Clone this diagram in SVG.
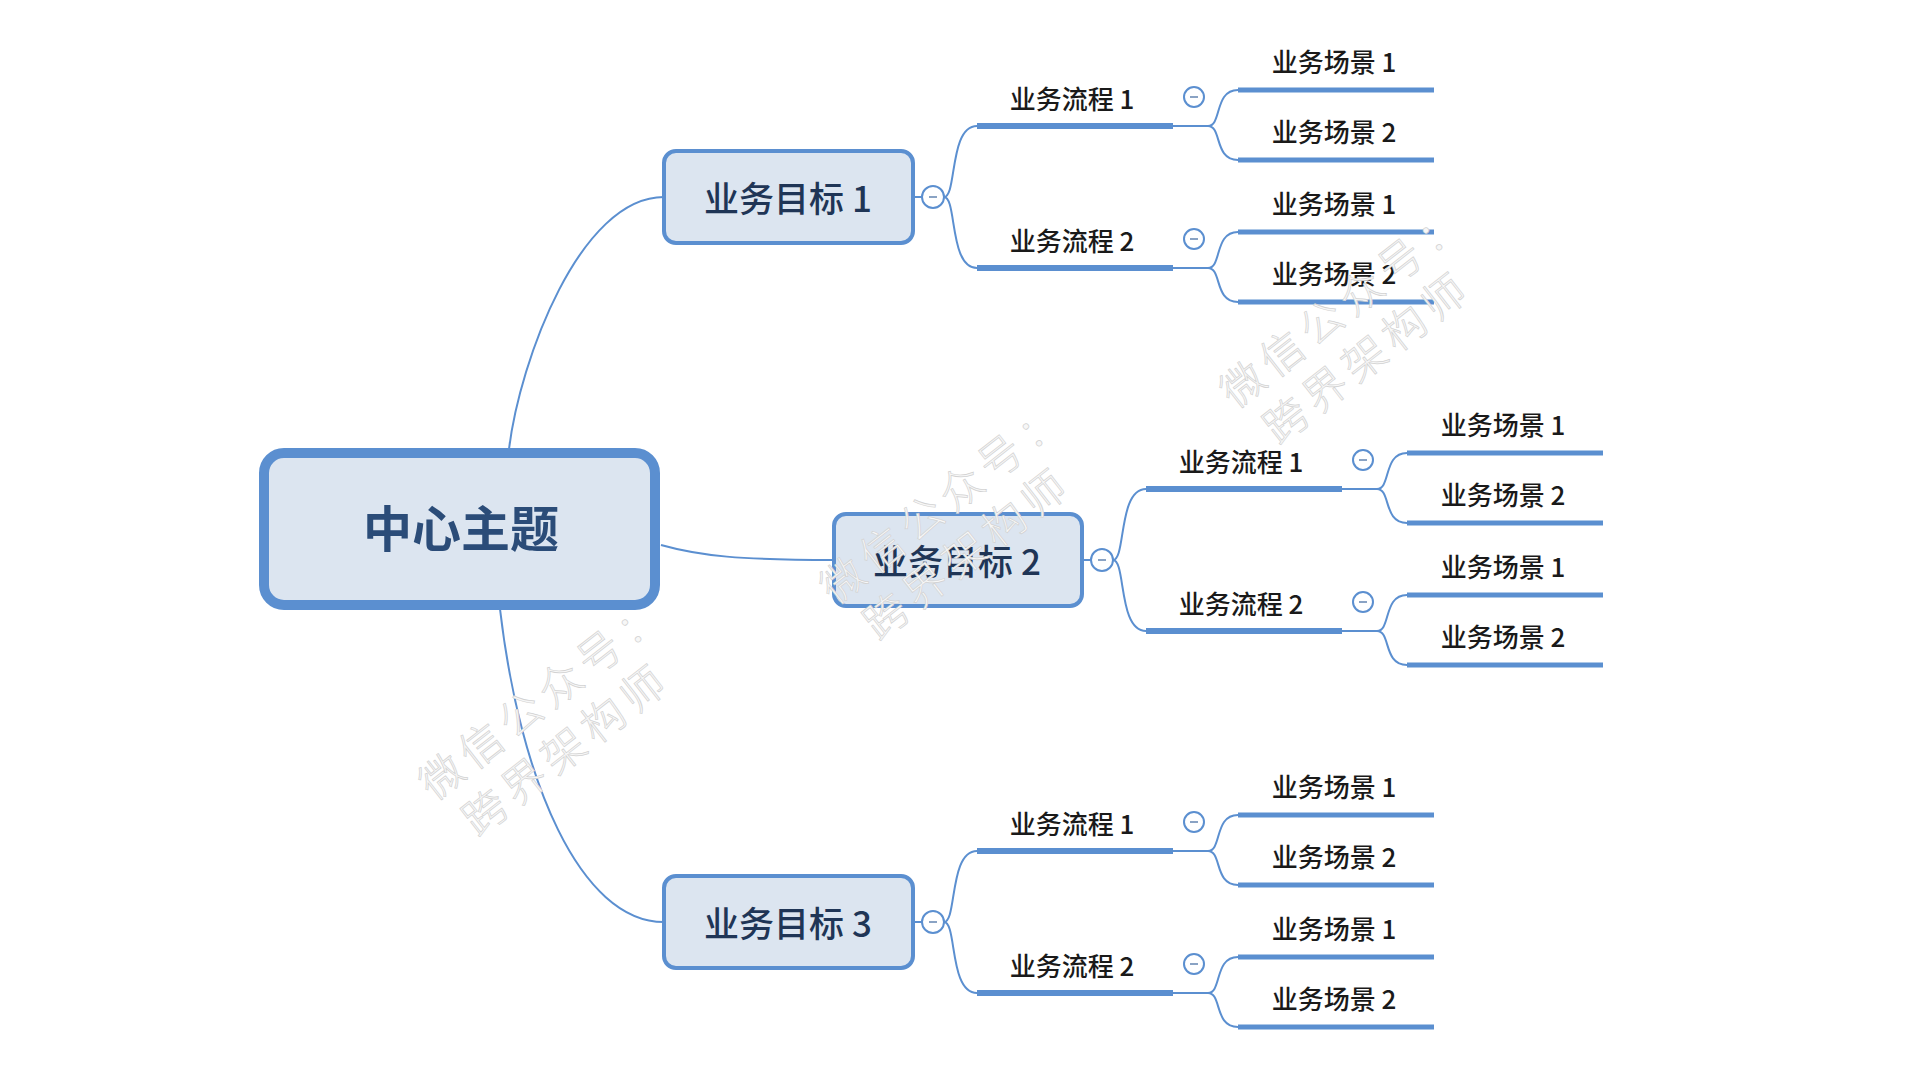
<svg xmlns="http://www.w3.org/2000/svg" width="1920" height="1080" viewBox="0 0 1920 1080">
<style>
.conn{fill:none;stroke:#5b8fd0;stroke-width:2}
.uline{stroke:#5b8fd0;stroke-width:6}
.sline{stroke:#5b8fd0;stroke-width:5}
.tog{fill:#fff;stroke:#5b8fd0;stroke-width:2}
.togm{stroke:#8aa3c4;stroke-width:2}
.t{font-family:"Noto Sans CJK SC","Noto Sans",sans-serif}
.ct{font-size:49px;font-weight:700;fill:#2b4c78;text-anchor:middle}
.gt{font-size:35px;font-weight:500;fill:#1f3556;text-anchor:middle}
.pt{font-size:26px;font-weight:500;fill:#1a1a1a;text-anchor:middle}
.goal{fill:#dce5f0;stroke:#5b8fd0;stroke-width:4}
.wm{font-family:"Noto Sans CJK SC",sans-serif;font-size:43px;font-weight:300;fill:#f7f7f7;stroke:#d2d2d2;stroke-width:0.7;letter-spacing:7px}
</style>
<rect x="0" y="0" width="1920" height="1080" fill="#ffffff"/>
<g id="connectors">
  <path class="conn" d="M509,449 C520,360 580,197 664,197"/>
  <path class="conn" d="M661,545 C700,556 740,560 834,560"/>
  <path class="conn" d="M500,609 C520,780 580,922 664,922"/>
  <path class="conn" d="M913,197 L922,197"/>
  <path class="conn" d="M1082,560 L1091,560"/>
  <path class="conn" d="M913,922 L922,922"/>
  <path class="conn" d="M944,197 C957,197 949,126 977,126"/>
  <path class="conn" d="M944,197 C957,197 949,268 977,268"/>
  <path class="conn" d="M1173,126 L1208,126 M1208,126 C1222,126 1214,90 1238,90 M1208,126 C1222,126 1214,160 1238,160"/>
  <path class="conn" d="M1173,268 L1208,268 M1208,268 C1222,268 1214,232 1238,232 M1208,268 C1222,268 1214,302 1238,302"/>
  <path class="conn" d="M1113,560 C1126,560 1118,489 1146,489"/>
  <path class="conn" d="M1113,560 C1126,560 1118,631 1146,631"/>
  <path class="conn" d="M1342,489 L1377,489 M1377,489 C1391,489 1383,453 1407,453 M1377,489 C1391,489 1383,523 1407,523"/>
  <path class="conn" d="M1342,631 L1377,631 M1377,631 C1391,631 1383,595 1407,595 M1377,631 C1391,631 1383,665 1407,665"/>
  <path class="conn" d="M944,922 C957,922 949,851 977,851"/>
  <path class="conn" d="M944,922 C957,922 949,993 977,993"/>
  <path class="conn" d="M1173,851 L1208,851 M1208,851 C1222,851 1214,815 1238,815 M1208,851 C1222,851 1214,885 1238,885"/>
  <path class="conn" d="M1173,993 L1208,993 M1208,993 C1222,993 1214,957 1238,957 M1208,993 C1222,993 1214,1027 1238,1027"/>
</g>

<g id="central">
  <rect x="264" y="453" width="391" height="152" rx="20" fill="#dce5f0" stroke="#5b8fd0" stroke-width="10"/>
  <text class="t ct" x="461" y="547">中心主题</text>
</g>

<g id="goal1">
  <rect class="goal" x="664" y="151" width="249" height="92" rx="12"/>
  <text class="t gt" x="788" y="212">业务目标 1</text>
  <circle class="tog" cx="933" cy="197" r="11"/><line class="togm" x1="929" y1="197" x2="937" y2="197"/>
</g>
<g id="goal1-flow1">
  <line class="uline" x1="977" y1="126" x2="1173" y2="126"/>
  <text class="t pt" x="1072" y="109">业务流程 1</text>
  <circle class="tog" cx="1194" cy="97" r="10"/><line class="togm" x1="1190" y1="97" x2="1198" y2="97"/>
</g>
<g id="goal1-flow1-scene1"><line class="sline" x1="1238" y1="90" x2="1434" y2="90"/><text class="t pt" x="1334" y="72">业务场景 1</text></g>
<g id="goal1-flow1-scene2"><line class="sline" x1="1238" y1="160" x2="1434" y2="160"/><text class="t pt" x="1334" y="142">业务场景 2</text></g>
<g id="goal1-flow2">
  <line class="uline" x1="977" y1="268" x2="1173" y2="268"/>
  <text class="t pt" x="1072" y="251">业务流程 2</text>
  <circle class="tog" cx="1194" cy="239" r="10"/><line class="togm" x1="1190" y1="239" x2="1198" y2="239"/>
</g>
<g id="goal1-flow2-scene1"><line class="sline" x1="1238" y1="232" x2="1434" y2="232"/><text class="t pt" x="1334" y="214">业务场景 1</text></g>
<g id="goal1-flow2-scene2"><line class="sline" x1="1238" y1="302" x2="1434" y2="302"/><text class="t pt" x="1334" y="284">业务场景 2</text></g>

<g id="goal2">
  <rect class="goal" x="834" y="514" width="248" height="92" rx="12"/>
  <text class="t gt" x="957" y="575">业务目标 2</text>
  <circle class="tog" cx="1102" cy="560" r="11"/><line class="togm" x1="1098" y1="560" x2="1106" y2="560"/>
</g>
<g id="goal2-flow1">
  <line class="uline" x1="1146" y1="489" x2="1342" y2="489"/>
  <text class="t pt" x="1241" y="472">业务流程 1</text>
  <circle class="tog" cx="1363" cy="460" r="10"/><line class="togm" x1="1359" y1="460" x2="1367" y2="460"/>
</g>
<g id="goal2-flow1-scene1"><line class="sline" x1="1407" y1="453" x2="1603" y2="453"/><text class="t pt" x="1503" y="435">业务场景 1</text></g>
<g id="goal2-flow1-scene2"><line class="sline" x1="1407" y1="523" x2="1603" y2="523"/><text class="t pt" x="1503" y="505">业务场景 2</text></g>
<g id="goal2-flow2">
  <line class="uline" x1="1146" y1="631" x2="1342" y2="631"/>
  <text class="t pt" x="1241" y="614">业务流程 2</text>
  <circle class="tog" cx="1363" cy="602" r="10"/><line class="togm" x1="1359" y1="602" x2="1367" y2="602"/>
</g>
<g id="goal2-flow2-scene1"><line class="sline" x1="1407" y1="595" x2="1603" y2="595"/><text class="t pt" x="1503" y="577">业务场景 1</text></g>
<g id="goal2-flow2-scene2"><line class="sline" x1="1407" y1="665" x2="1603" y2="665"/><text class="t pt" x="1503" y="647">业务场景 2</text></g>

<g id="goal3">
  <rect class="goal" x="664" y="876" width="249" height="92" rx="12"/>
  <text class="t gt" x="788" y="937">业务目标 3</text>
  <circle class="tog" cx="933" cy="922" r="11"/><line class="togm" x1="929" y1="922" x2="937" y2="922"/>
</g>
<g id="goal3-flow1">
  <line class="uline" x1="977" y1="851" x2="1173" y2="851"/>
  <text class="t pt" x="1072" y="834">业务流程 1</text>
  <circle class="tog" cx="1194" cy="822" r="10"/><line class="togm" x1="1190" y1="822" x2="1198" y2="822"/>
</g>
<g id="goal3-flow1-scene1"><line class="sline" x1="1238" y1="815" x2="1434" y2="815"/><text class="t pt" x="1334" y="797">业务场景 1</text></g>
<g id="goal3-flow1-scene2"><line class="sline" x1="1238" y1="885" x2="1434" y2="885"/><text class="t pt" x="1334" y="867">业务场景 2</text></g>
<g id="goal3-flow2">
  <line class="uline" x1="977" y1="993" x2="1173" y2="993"/>
  <text class="t pt" x="1072" y="976">业务流程 2</text>
  <circle class="tog" cx="1194" cy="964" r="10"/><line class="togm" x1="1190" y1="964" x2="1198" y2="964"/>
</g>
<g id="goal3-flow2-scene1"><line class="sline" x1="1238" y1="957" x2="1434" y2="957"/><text class="t pt" x="1334" y="939">业务场景 1</text></g>
<g id="goal3-flow2-scene2"><line class="sline" x1="1238" y1="1027" x2="1434" y2="1027"/><text class="t pt" x="1334" y="1009">业务场景 2</text></g>

<g id="watermarks">
  <text class="wm" transform="translate(425,790) rotate(-38)"><tspan x="0" y="15">微信公众号：</tspan><tspan x="12" y="70">跨界架构师</tspan></text>
  <text class="wm" transform="translate(826,594) rotate(-38)"><tspan x="0" y="15">微信公众号：</tspan><tspan x="12" y="70">跨界架构师</tspan></text>
  <text class="wm" transform="translate(1226,398) rotate(-38)"><tspan x="0" y="15">微信公众号：</tspan><tspan x="12" y="70">跨界架构师</tspan></text>
</g>
</svg>
